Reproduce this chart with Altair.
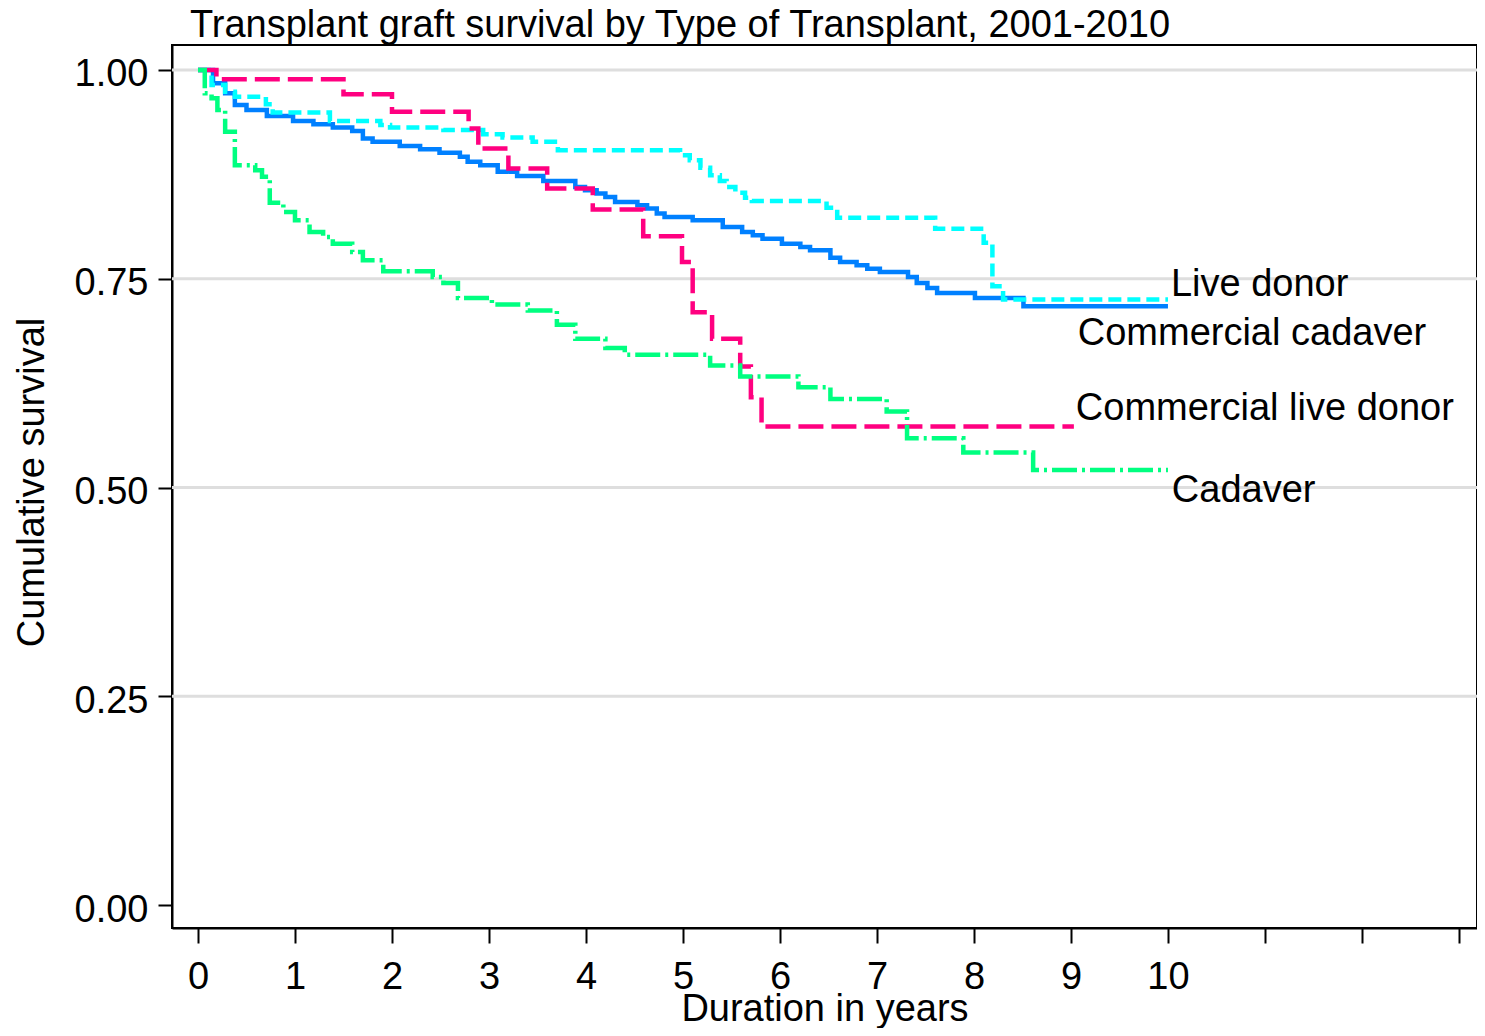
import altair as alt
import pandas as pd

# ---------------- data ----------------
series_names = ["Live donor", "Commercial cadaver", "Commercial live donor", "Cadaver"]
series_colors = ["#0080FF", "#00FFFF", "#FF0080", "#00FF80"]
series_dashes = [[1, 0], [13, 6], [25, 8], [25, 5, 3, 5]]

blue_t = [0, 0.155, 0.28, 0.38, 0.50, 0.71, 0.98, 1.19, 1.39, 1.59,
          1.70, 1.80, 2.08, 2.29, 2.49, 2.70, 2.78, 2.91, 3.09, 3.29,
          3.56, 3.89, 3.99, 4.11, 4.20, 4.30, 4.53, 4.63, 4.73, 4.81,
          5.10, 5.41, 5.61, 5.72, 5.82, 6.02, 6.21, 6.31, 6.52, 6.62,
          6.79, 6.90, 7.03, 7.32, 7.41, 7.52, 7.62, 8.01, 8.51, 10.0]
blue_s = [1.0, 0.984, 0.972, 0.958, 0.952, 0.945, 0.939, 0.935, 0.931, 0.927,
          0.918, 0.914, 0.909, 0.905, 0.901, 0.896, 0.890, 0.886, 0.878, 0.873,
          0.867, 0.860, 0.856, 0.852, 0.848, 0.842, 0.838, 0.834, 0.828, 0.824,
          0.820, 0.812, 0.806, 0.802, 0.798, 0.792, 0.788, 0.784, 0.775, 0.770,
          0.766, 0.762, 0.758, 0.752, 0.745, 0.739, 0.733, 0.727, 0.717, 0.717]

cyan_t = [0, 0.14, 0.28, 0.38, 0.70, 0.77, 1.36, 1.88, 1.98, 2.53,
          2.94, 3.14, 3.45, 3.71, 4.97, 5.07, 5.18, 5.28, 5.38, 5.45,
          5.54, 5.64, 5.71, 6.48, 6.59, 7.60, 8.10, 8.19, 8.30, 10.0]
cyan_s = [1.0, 0.982, 0.974, 0.968, 0.959, 0.949, 0.939, 0.934, 0.931, 0.928,
          0.923, 0.919, 0.914, 0.904, 0.898, 0.892, 0.883, 0.874, 0.867, 0.860,
          0.853, 0.847, 0.843, 0.835, 0.823, 0.810, 0.793, 0.741, 0.725, 0.725]

pink_t = [0, 0.19, 1.50, 2.00, 2.79, 2.89, 3.20, 3.60, 4.07, 4.59,
          4.99, 5.10, 5.30, 5.59, 5.70, 5.81, 9.03]
pink_s = [1.0, 0.989, 0.971, 0.950, 0.930, 0.906, 0.882, 0.858, 0.833, 0.801,
          0.770, 0.710, 0.678, 0.645, 0.608, 0.573, 0.573]

green_t = [0, 0.07, 0.14, 0.20, 0.28, 0.38, 0.59, 0.66, 0.74, 0.88,
           1.00, 1.15, 1.29, 1.39, 1.59, 1.70, 1.91, 2.42, 2.53, 2.68,
           3.03, 3.40, 3.70, 3.89, 4.20, 4.40, 5.28, 5.59, 6.19, 6.52,
           7.10, 7.31, 7.89, 8.61, 10.0]
green_s = [1.0, 0.972, 0.966, 0.952, 0.926, 0.886, 0.880, 0.872, 0.841, 0.830,
           0.820, 0.806, 0.800, 0.792, 0.782, 0.772, 0.759, 0.752, 0.745, 0.727,
           0.719, 0.712, 0.695, 0.678, 0.667, 0.659, 0.646, 0.633, 0.620, 0.606,
           0.591, 0.559, 0.542, 0.521, 0.521]

label_text = ["Live donor", "Commercial cadaver", "Commercial live donor", "Cadaver"]
label_t = [10.03, 9.07, 9.05, 10.04]
label_s = [0.743, 0.684, 0.594, 0.496]

grid_values = [0.25, 0.5, 0.75, 1.0]
y_ticks = [0, 0.25, 0.5, 0.75, 1.0]
x_ticks = list(range(14))

title_text = "Transplant graft survival by Type of Transplant, 2001-2010"

# ---------------- chart ----------------
FONT = "Liberation Sans"
FS = 38
xscale = alt.Scale(domain=[-0.268, 13.186], nice=False, zero=False)
yscale = alt.Scale(domain=[-0.0275, 1.0299], nice=False, zero=False)

x_axis = alt.Axis(values=x_ticks, labelExpr="datum.value <= 10 ? datum.label : ''",
                  title="Duration in years", tickSize=15, labelPadding=15,
                  titleY=92, titleBaseline="alphabetic", labelFlush=False,
                  labelOverlap=False)
y_axis = alt.Axis(values=y_ticks, format=".2f", title="Cumulative survival",
                  tickSize=14, labelPadding=10, labelOffset=5,
                  titleAngle=270, titleX=-129, titleY=437, titleAlign="center",
                  titleBaseline="alphabetic", labelFlush=False, labelOverlap=False)

grid_df = pd.DataFrame({"g": grid_values})
grid = alt.Chart(grid_df).mark_rule(color="#DEDEDE", strokeWidth=3).encode(
    y=alt.Y("g:Q", scale=yscale, axis=y_axis)
)

layers = [grid]
all_t = [blue_t, cyan_t, pink_t, green_t]
all_s = [blue_s, cyan_s, pink_s, green_s]
for name, col, dash, ts, ss in zip(series_names, series_colors, series_dashes, all_t, all_s):
    d = pd.DataFrame({"t": ts, "s": ss, "series": name})
    layers.append(
        alt.Chart(d).mark_line(interpolate="step-after", strokeWidth=4.5, strokeCap="butt",
                               color=col, strokeDash=dash).encode(
            x=alt.X("t:Q", scale=xscale, axis=x_axis),
            y=alt.Y("s:Q", scale=yscale, axis=y_axis),
        )
    )

lab_df = pd.DataFrame({"t": label_t, "s": label_s, "label": label_text})
labels = alt.Chart(lab_df).mark_text(align="left", baseline="middle", font=FONT,
                                     fontSize=FS, color="black").encode(
    x=alt.X("t:Q", scale=xscale, axis=x_axis),
    y=alt.Y("s:Q", scale=yscale, axis=y_axis),
    text="label:N",
)
layers.append(labels)

chart = alt.layer(*layers).properties(
    width=1305, height=883,
    autosize=alt.AutoSizeParams(type="none"),
    padding={"left": 164, "top": 37, "right": 0, "bottom": 100},
    title=alt.TitleParams(title_text, anchor="start", frame="group", dx=18, dy=38,
                          offset=8, baseline="alphabetic", font=FONT, fontSize=FS,
                          fontWeight="normal", color="black"),
).configure_view(
    stroke="black", strokeWidth=2
).configure_axis(
    domainColor="black", domainWidth=2, tickColor="black", tickWidth=2,
    labelFont=FONT, titleFont=FONT, labelFontSize=FS, titleFontSize=FS,
    titleFontWeight="normal", labelColor="black", titleColor="black", grid=False
)

chart.save("out.html", embed_options={"renderer": "svg", "actions": False})
